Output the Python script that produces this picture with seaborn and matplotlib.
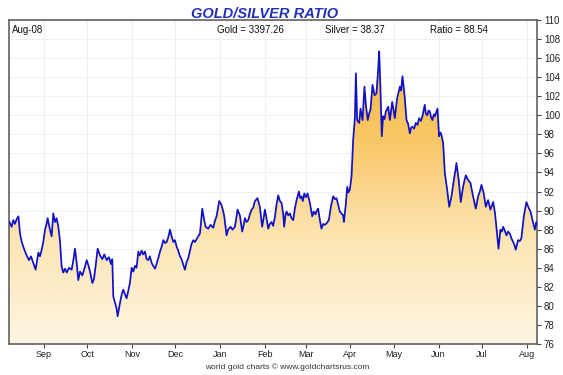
import numpy as np
import pandas as pd
import matplotlib
matplotlib.use("Agg")
import matplotlib.pyplot as plt
import matplotlib.dates as mdates
from matplotlib.colors import LinearSegmentedColormap
import seaborn as sns

# ---------------- data ----------------
start_date = "2024-08-08"
day_offsets = [
    0, 1.8, 3.0, 4.1, 5.3, 6.5, 7.6, 8.8, 9.9, 11.1, 12.2, 13.8, 15.2, 16.8, 18.4, 20.3,
    21.4, 22.6, 23.7, 24.9, 26.0, 26.7, 28.3, 29.5, 30.6, 31.8, 32.9, 34.1, 35.2, 36.4,
    37.5, 38.7, 39.9, 41.5, 43.3, 44.5, 45.6, 46.8, 47.9, 49.1, 50.7, 52.5, 53.7, 54.8,
    56.0, 57.6, 58.7, 59.9, 61.3, 62.9, 64.5, 65.9, 67.5, 69.1, 70.5, 71.4, 72.1, 73.3,
    74.4, 75.1, 76.7, 77.9, 79.0, 80.2, 81.3, 82.5, 83.6, 84.8, 85.9, 87.1, 88.2, 89.4,
    90.5, 91.7, 92.8, 94.0, 95.1, 96.3, 97.4, 98.6, 99.7, 100.9, 102.0, 103.2, 104.4,
    105.5, 106.7, 107.8, 109.0, 110.1, 111.3, 112.4, 113.6, 114.7, 115.9, 117.0, 118.2,
    119.3, 120.5, 121.6, 122.8, 123.9,
    126.2, 127.4, 128.5, 130.4, 132.0, 133.6, 134.7, 135.9, 137.7, 139.3, 141.2, 142.3,
    143.5, 144.6, 145.3, 146.9, 148.1, 148.8, 150.4, 151.5, 153.2, 154.5, 156.2, 158.0,
    159.6, 161.2, 162.1, 163.1, 164.2, 165.4, 166.5, 167.7, 168.8, 170.0, 171.8, 173.4,
    175.0, 176.0, 176.9, 178.0, 179.2, 180.3, 181.5, 182.6, 183.8, 184.9, 186.1, 187.3,
    188.4, 189.6, 190.2, 191.2, 191.9, 193.0, 194.2, 195.3, 196.5, 197.6, 198.8, 200.4,
    201.3, 202.2, 203.1, 204.1, 205.2, 206.4, 208.0, 209.6, 210.7, 211.9, 212.8, 213.7,
    214.9, 216.0, 217.2, 218.4, 219.7, 221.1, 222.5, 224.1, 225.3, 226.4, 227.6,
    228.7, 229.9, 231.0, 231.5, 232.8, 233.8, 234.7, 235.6, 236.8, 237.9, 239.1, 239.8,
    240.7, 242.1, 243.0, 244.4, 245.7, 246.7, 248.0, 249.0, 249.9, 251.3, 252.7, 254.0,
    255.2, 255.9, 256.8, 257.7, 258.6, 259.6, 260.5, 262.1, 263.3, 264.9, 265.8, 266.7,
    268.3, 270.2, 271.1, 272.0, 272.9, 273.6, 274.8, 275.9, 277.1, 278.0, 278.9, 280.1,
    281.2, 282.4, 283.5, 284.7, 285.8, 287.4, 288.1, 289.1, 290.0, 290.9, 291.8, 292.7,
    293.7, 294.4, 295.3, 296.2, 297.3, 298.3, 299.0, 300.1, 301.3, 302.9, 304.3, 305.9,
    307.5, 308.6, 309.3, 310.2, 310.9, 312.3, 313.9, 315.1, 315.8, 317.4, 319.0, 319.9,
    320.8, 322.7, 324.3, 325.5, 326.6, 328.2, 329.6, 331.2, 332.8, 334.7, 336.0, 337.4,
    338.4, 339.7, 340.7, 341.6, 342.7, 343.9, 345.0, 346.2, 347.3, 348.5, 349.4, 350.3,
    351.9, 353.1, 354.2, 355.9, 356.8, 357.7, 358.9, 360.5, 361.9, 363.5, 364.6, 365.0,
]
ratio_values = [
    88.9, 88.3, 89.0, 88.6, 89.1, 89.4, 87.6, 86.7, 86.2, 85.7, 85.3, 84.8, 85.2, 84.5, 83.8, 85.6,
    85.2, 85.9, 86.7, 88.0, 88.6, 89.2, 88.0, 87.3, 89.7, 88.8, 89.2, 88.3, 86.9, 84.1,
    83.5, 83.9, 83.5, 84.0, 83.8, 84.8, 86.0, 84.5, 82.7, 83.6, 83.2, 84.1, 84.8, 84.3,
    83.6, 82.4, 82.8, 84.2, 86.0, 85.3, 84.9, 85.4, 84.8, 85.1, 84.4, 84.9, 81.0, 80.3,
    79.7, 78.9, 80.3, 81.2, 81.7, 81.2, 80.8, 81.6, 82.4, 84.0, 83.6, 84.2, 84.0, 85.7,
    85.3, 85.8, 85.4, 85.7, 84.9, 84.8, 85.2, 84.5, 84.2, 83.9, 84.4, 85.0, 85.7,
    86.2, 86.9, 86.6, 86.7, 87.2, 88.0, 87.3, 86.7, 86.9, 86.2, 85.8, 85.2,
    84.9, 84.3, 83.8, 84.6, 85.0,
    86.5, 86.9, 86.7, 87.2, 87.6, 90.2, 89.2, 88.3, 88.1, 88.5, 88.2, 88.9,
    89.4, 90.4, 91.0, 90.6, 89.9, 89.4, 87.4, 88.0, 88.3, 88.0, 88.3, 90.1,
    89.5, 87.8, 88.4, 89.2, 88.8, 89.0, 89.6, 90.1, 90.3, 91.0, 91.3, 90.4,
    88.3, 89.2, 90.1, 89.2, 88.1, 88.6, 88.8, 88.4, 89.3, 90.6, 91.6, 91.0,
    90.8, 89.6, 88.3, 89.6, 89.9, 89.5, 89.7, 89.2, 89.0, 90.2, 91.1, 92.0,
    91.3, 91.5, 91.0, 91.8, 91.4, 91.8, 90.8, 89.4, 89.9, 89.6, 90.0, 90.2,
    89.0, 88.1, 88.6, 88.5, 88.7, 89.0, 90.4, 91.5, 91.2, 91.3, 90.6,
    89.9, 89.7, 89.5, 88.8, 90.6, 92.5, 91.9, 92.2, 93.6, 97.4, 99.7, 104.4,
    99.5, 99.2, 100.7, 99.5, 103.0, 101.1, 99.5, 100.2, 100.6, 103.2, 102.1, 102.3,
    104.8, 106.7, 102.7, 97.8, 99.9, 99.6, 100.4, 100.9, 99.5, 101.4, 100.6, 99.7,
    101.8, 103.0, 102.6, 104.1, 102.9, 101.8, 99.5, 99.1, 98.1, 98.7, 98.8, 98.6,
    99.2, 99.0, 99.7, 99.4, 99.9, 101.1, 100.2, 100.0, 100.5, 100.4, 99.8, 99.5,
    100.1, 99.9, 100.3, 100.7, 97.8, 98.2, 97.9, 97.1, 93.9, 92.2, 90.4, 91.5,
    93.2, 94.2, 95.0, 94.0, 93.2, 90.9, 92.5, 93.3, 93.7, 93.2, 92.9, 92.2,
    91.5, 90.2, 91.5, 92.0, 92.7, 91.8, 90.4, 91.1, 90.1, 90.9, 89.7, 87.6,
    86.0, 88.0, 87.8, 88.3, 87.9, 87.4, 87.8, 87.6, 87.1, 86.7, 86.4, 85.9,
    86.9, 86.8, 87.1, 89.4, 90.2, 90.9, 90.4, 89.9, 89.0, 88.0, 88.8, 88.54,
]
month_labels = ["Sep", "Oct", "Nov", "Dec", "Jan", "Feb", "Mar", "Apr", "May", "Jun", "Jul", "Aug"]
y_ticks = list(range(76, 111, 2))
title_text = "GOLD/SILVER RATIO"
date_label = "Aug-08"
gold_label = "Gold = 3397.26"
silver_label = "Silver = 38.37"
ratio_label = "Ratio = 88.54"
footer_text = "world gold charts \u00a9 www.goldchartsrus.com"

# ---------------- build ----------------
dates = pd.Timestamp(start_date) + pd.to_timedelta(day_offsets, unit="D")
df = pd.DataFrame({"date": dates, "ratio": ratio_values})

sns.set_theme(style="white")
plt.rcParams["font.family"] = ["Liberation Sans", "DejaVu Sans"]

fig = plt.figure(figsize=(5.63, 3.75), dpi=100)
ax = fig.add_axes([9 / 563, 1 - 344 / 375, (537 - 9) / 563, (344 - 20) / 375])
ax.set_facecolor("white")

x0 = mdates.date2num(pd.Timestamp(start_date))
x1 = mdates.date2num(dates[-1])
ymin, ymax = 76, 110

# gradient fill under the line
poly = ax.fill_between(df["date"], df["ratio"], ymin, facecolor="none", edgecolor="none")
cmap = LinearSegmentedColormap.from_list("goldgrad", ["#fef5e2", "#fde6b6", "#f9c766", "#f6b840"])
grad = np.linspace(0, 1, 256).reshape(-1, 1)
im = ax.imshow(grad, extent=[x0, x1, ymin, 108], origin="lower", aspect="auto",
               cmap=cmap, zorder=1, interpolation="bicubic")
clip = poly.get_paths()[0]
im.set_clip_path(clip, transform=ax.transData)

sns.lineplot(data=df, x="date", y="ratio", ax=ax, color="#1010c8", linewidth=1.25, zorder=3)

ax.set_xlim(x0, x1)
ax.set_ylim(ymin, ymax)

# ticks
month_starts = pd.date_range("2024-09-01", periods=12, freq="MS")
ax.set_xticks(mdates.date2num(month_starts))
ax.set_xticklabels(month_labels)
ax.yaxis.tick_right()
ax.set_yticks(y_ticks)
ax.set_yticklabels([str(v) for v in y_ticks])
ax.tick_params(axis="both", which="both", direction="out", length=3, width=0.8,
               color="#444444", labelsize=7, labelcolor="#222222", pad=2)
ax.tick_params(axis="x", bottom=True, top=False, labelsize=6.5, pad=1.5)
ax.tick_params(axis="y", right=True, left=False)
ax.set_xlabel("")
ax.set_ylabel("")

ax.grid(True, color="#ececec", linewidth=0.6)
ax.set_axisbelow(True)
for s in ax.spines.values():
    s.set_color("#555555")
    s.set_linewidth(1.1)

# texts
fig.text(265 / 563, 1 - 14 / 375, title_text, ha="center", va="center",
         fontsize=10.5, fontweight="bold", fontstyle="italic", color="#2030b8")
fs = 7
ax.text((12 - 9) / 528, 0.986, date_label, transform=ax.transAxes, ha="left", va="top",
        fontsize=fs, color="#111111")
ax.text((217 - 9) / 528, 0.986, gold_label, transform=ax.transAxes, ha="left", va="top",
        fontsize=fs, color="#111111")
ax.text((325 - 9) / 528, 0.986, silver_label, transform=ax.transAxes, ha="left", va="top",
        fontsize=fs, color="#111111")
ax.text((488 - 9) / 528, 0.986, ratio_label, transform=ax.transAxes, ha="right", va="top",
        fontsize=fs, color="#111111")
fig.text(287 / 563, 1 - 367 / 375, footer_text, ha="center", va="center",
         fontsize=6, color="#333333")

fig.savefig("out.png", dpi=100)
